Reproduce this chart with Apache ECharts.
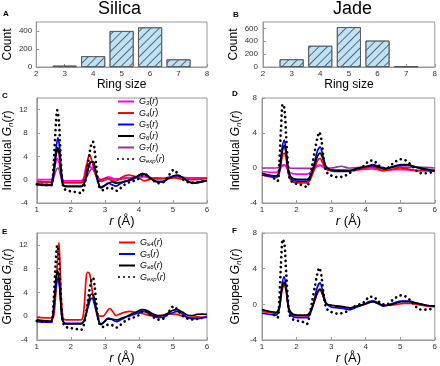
<!DOCTYPE html>
<html><head><meta charset="utf-8">
<script src="https://cdn.jsdelivr.net/npm/echarts@6/dist/echarts.min.js"></script>
<style>html,body{margin:0;padding:0;background:#fff}#c{width:440px;height:366px}</style>
</head><body><div id="c"></div><script>
// ---------- data ----------
const ringSizes = [3, 4, 5, 6, 7];
const silicaCounts = [15, 120, 400, 440, 85];
const jadeCounts = [120, 330, 620, 410, 10];

// Silica, individual rings (panel C)
const silicaExp = [[1.0,-0.8],[1.1,-0.9],[1.2,-0.9],[1.3,-0.9],[1.4,-1.0],[1.45,-0.8],[1.5,3],[1.55,8.5],[1.6,11.9],[1.65,10],[1.7,4],[1.75,-0.3],[1.8,-1.5],[1.9,-1.9],[2.0,-2.0],[2.1,-2.1],[2.2,-2.2],[2.3,-2.3],[2.35,-2.0],[2.4,-1.0],[2.45,0.5],[2.5,2.5],[2.55,4.5],[2.6,6.0],[2.65,6.5],[2.7,5.0],[2.75,2.0],[2.8,-0.3],[2.85,-1.4],[2.95,-1.8],[3.05,-1.5],[3.15,-1.4],[3.25,-1.6],[3.35,-1.9],[3.45,-1.5],[3.55,-1.0],[3.65,-0.6],[3.8,-0.3],[3.95,0.0],[4.05,0.5],[4.15,1.0],[4.25,0.7],[4.35,0.1],[4.5,-0.4],[4.6,-0.6],[4.75,-0.3],[4.85,0.5],[4.95,1.3],[5.02,1.7],[5.1,1.3],[5.2,0.6],[5.3,0.0],[5.43,-0.4],[5.58,-0.55],[5.7,-0.45],[5.85,-0.3],[6.0,-0.2]];
const silicaG3 = [[1.0,0.0],[1.4,0.0],[1.45,0.2],[1.5,1.2],[1.55,2.8],[1.6,3.6],[1.65,3.0],[1.7,1.2],[1.75,0.1],[1.8,-0.2],[2.0,-0.2],[2.3,-0.2],[2.38,0.3],[2.43,1.8],[2.48,2.8],[2.53,2.6],[2.6,2.0],[2.65,2.1],[2.72,1.2],[2.8,0.3],[2.9,0.0],[3.0,0.2],[3.1,0.5],[3.2,0.3],[3.3,0.1],[3.45,0.2],[3.6,0.4],[3.8,0.3],[4.0,0.4],[4.15,0.5],[4.35,0.2],[4.55,0.1],[4.8,0.3],[5.0,0.5],[5.2,0.4],[5.4,0.2],[5.6,0.1],[5.8,0.2],[6.0,0.3]];
const silicaG4 = [[1.0,-0.3],[1.4,-0.4],[1.45,-0.1],[1.5,1.5],[1.55,3.8],[1.6,5.0],[1.65,4.5],[1.7,2.0],[1.75,0.0],[1.8,-0.5],[2.0,-0.5],[2.3,-0.5],[2.38,0.0],[2.44,1.5],[2.5,3.5],[2.55,4.3],[2.6,3.6],[2.67,2.0],[2.75,0.5],[2.85,-0.2],[2.95,0.1],[3.05,0.3],[3.15,0.0],[3.3,-0.3],[3.45,0.2],[3.6,0.7],[3.7,0.8],[3.85,0.6],[4.0,0.3],[4.15,-0.2],[4.3,0.0],[4.5,0.3],[4.7,0.2],[4.9,0.2],[5.05,0.3],[5.25,0.1],[5.45,0.0],[5.65,0.0],[5.85,0.1],[6.0,0.2]];
const silicaG5 = [[1.0,-0.9],[1.4,-1.0],[1.45,-0.7],[1.5,1.5],[1.56,5.0],[1.62,7.2],[1.67,5.5],[1.72,1.5],[1.77,-0.8],[1.85,-1.1],[2.0,-1.1],[2.3,-1.1],[2.38,-0.7],[2.45,0.5],[2.52,2.0],[2.6,3.0],[2.65,3.0],[2.72,1.5],[2.8,-0.5],[2.88,-1.3],[2.98,-1.0],[3.1,-0.6],[3.22,-0.9],[3.32,-1.1],[3.45,-0.7],[3.6,-0.3],[3.8,0.0],[3.95,0.5],[4.1,1.1],[4.25,0.6],[4.4,0.0],[4.55,-0.3],[4.7,-0.3],[4.85,0.2],[5.0,0.6],[5.15,0.7],[5.3,0.3],[5.45,-0.3],[5.6,-0.5],[5.75,-0.4],[5.9,-0.2],[6.0,-0.1]];
const silicaG6 = [[1.0,-0.7],[1.4,-0.9],[1.45,-0.6],[1.5,1.2],[1.56,4.0],[1.61,5.5],[1.66,4.5],[1.71,1.5],[1.76,-0.8],[1.85,-1.2],[2.0,-1.2],[2.3,-1.2],[2.38,-0.8],[2.45,0.5],[2.52,2.2],[2.58,3.0],[2.66,3.0],[2.72,1.8],[2.8,-0.4],[2.88,-1.4],[2.98,-1.1],[3.08,-0.7],[3.2,-0.4],[3.35,-0.6],[3.5,-0.4],[3.65,-0.2],[3.8,0.2],[3.95,0.6],[4.1,1.0],[4.25,0.7],[4.4,0.0],[4.55,-0.4],[4.7,-0.4],[4.85,0.1],[5.0,0.6],[5.12,0.8],[5.28,0.4],[5.45,-0.3],[5.6,-0.6],[5.75,-0.5],[5.9,-0.3],[6.0,-0.2]];
const silicaG7 = [[1.0,-0.4],[1.4,-0.5],[1.46,-0.3],[1.52,0.8],[1.58,1.8],[1.63,2.0],[1.68,1.2],[1.74,-0.1],[1.8,-0.5],[2.0,-0.5],[2.3,-0.5],[2.4,-0.2],[2.48,0.6],[2.56,1.5],[2.63,1.9],[2.7,1.2],[2.78,0.2],[2.88,-0.3],[3.0,-0.1],[3.15,0.2],[3.3,0.1],[3.5,0.1],[3.7,0.3],[3.9,0.4],[4.1,0.6],[4.3,0.4],[4.5,0.2],[4.7,0.2],[4.9,0.4],[5.1,0.5],[5.3,0.4],[5.5,0.3],[5.7,0.3],[5.9,0.3],[6.0,0.3]];

// Jade, individual rings (panel D)
const jadeExp = [[1.35,-1.2],[1.45,-1.5],[1.5,0.5],[1.55,4.5],[1.6,7.3],[1.65,6.8],[1.7,3.5],[1.75,0.5],[1.8,-1.2],[1.9,-1.7],[2.0,-1.8],[2.1,-1.9],[2.2,-2.0],[2.3,-2.2],[2.38,-1.2],[2.45,0.3],[2.53,2.0],[2.6,3.4],[2.66,4.1],[2.72,3.2],[2.78,1.2],[2.85,-0.3],[2.95,-0.8],[3.05,-0.9],[3.18,-1.05],[3.3,-1.0],[3.45,-0.8],[3.6,-0.4],[3.75,-0.1],[3.9,0.1],[4.0,0.4],[4.1,0.85],[4.22,0.85],[4.35,0.4],[4.5,0.0],[4.62,0.0],[4.75,0.4],[4.87,0.75],[5.0,1.0],[5.12,0.95],[5.25,0.6],[5.4,0.0],[5.52,-0.5],[5.65,-0.6],[5.78,-0.6],[5.9,-0.5],[6.0,-0.4]];
const jadeG3 = [[1.0,-0.4],[1.4,-0.5],[1.5,-0.3],[1.58,0.2],[1.65,0.35],[1.72,0.0],[1.8,-0.5],[2.0,-0.7],[2.3,-0.7],[2.4,-0.5],[2.52,-0.1],[2.62,0.3],[2.7,0.3],[2.8,0.0],[2.95,-0.2],[3.2,-0.2],[3.5,-0.3],[3.8,-0.2],[4.2,-0.1],[4.5,-0.3],[4.8,-0.2],[5.1,-0.2],[5.5,-0.3],[6.0,-0.3]];
const jadeG4 = [[1.0,-0.8],[1.4,-1.1],[1.5,-0.6],[1.57,1.0],[1.64,1.7],[1.7,1.0],[1.78,-0.9],[1.9,-1.6],[2.1,-1.7],[2.3,-1.7],[2.4,-1.3],[2.5,-0.3],[2.6,0.8],[2.68,1.1],[2.75,0.6],[2.85,-0.1],[3.0,-0.3],[3.3,-0.3],[3.6,-0.3],[3.9,-0.1],[4.15,0.1],[4.3,0.0],[4.5,-0.3],[4.7,-0.2],[5.0,0.0],[5.2,-0.1],[5.5,-0.3],[5.8,-0.3],[6.0,-0.4]];
const jadeG5 = [[1.0,-0.8],[1.4,-1.0],[1.5,-0.3],[1.57,2.0],[1.64,3.2],[1.7,2.0],[1.78,-0.6],[1.9,-1.4],[2.1,-1.5],[2.3,-1.5],[2.4,-1.0],[2.5,0.3],[2.6,1.9],[2.68,2.4],[2.75,1.6],[2.85,0.2],[3.0,-0.3],[3.2,-0.4],[3.5,-0.4],[3.8,0.0],[4.05,0.2],[4.2,0.4],[4.35,0.2],[4.55,-0.1],[4.75,0.1],[5.0,0.4],[5.2,0.4],[5.45,0.1],[5.7,-0.2],[6.0,-0.3]];
const jadeG6 = [[1.0,-0.6],[1.4,-0.9],[1.5,-0.4],[1.57,1.5],[1.64,2.6],[1.7,1.6],[1.78,-0.5],[1.9,-1.2],[2.1,-1.3],[2.3,-1.3],[2.4,-0.9],[2.5,0.1],[2.6,1.3],[2.68,1.7],[2.75,1.2],[2.85,0.1],[3.0,-0.2],[3.2,-0.3],[3.5,-0.3],[3.8,0.0],[4.05,0.2],[4.2,0.3],[4.35,0.1],[4.55,-0.1],[4.75,0.1],[5.0,0.3],[5.2,0.35],[5.45,0.1],[5.7,-0.1],[6.0,-0.3]];
const jadeG7 = [[1.0,0.0],[1.4,0.0],[1.5,0.05],[1.6,0.3],[1.68,0.3],[1.78,0.0],[2.0,-0.05],[2.4,-0.05],[2.55,0.1],[2.68,0.3],[2.8,0.1],[3.0,0.0],[3.3,0.2],[3.5,0.0],[4.0,0.1],[4.3,0.2],[4.6,0.0],[5.0,0.1],[5.5,0.1],[6.0,0.0]];

// Silica, grouped (panel E)
const silicaLe4 = [[1.0,-0.2],[1.4,-0.3],[1.48,-0.2],[1.52,1.0],[1.57,5.0],[1.62,10.5],[1.65,12.4],[1.68,9.0],[1.72,3.0],[1.77,-0.3],[1.85,-0.6],[2.0,-0.6],[2.3,-0.6],[2.36,0.0],[2.41,3.0],[2.45,6.5],[2.49,7.4],[2.55,7.2],[2.6,5.5],[2.66,3.0],[2.75,0.8],[2.85,0.0],[2.95,0.0],[3.05,0.7],[3.14,1.3],[3.23,0.8],[3.33,0.1],[3.45,0.4],[3.6,0.7],[3.75,0.8],[3.9,0.6],[4.05,0.5],[4.2,0.3],[4.35,0.1],[4.5,0.0],[4.7,0.2],[4.9,0.4],[5.1,0.3],[5.3,0.0],[5.5,-0.2],[5.7,-0.1],[5.9,-0.2],[6.0,-0.2]];
const silicaEq5 = [[1.0,-0.9],[1.4,-1.0],[1.45,-0.7],[1.5,1.2],[1.56,4.5],[1.62,6.5],[1.67,5.0],[1.72,1.2],[1.77,-0.8],[1.85,-1.2],[2.0,-1.2],[2.3,-1.2],[2.38,-0.8],[2.45,0.3],[2.53,2.0],[2.6,3.0],[2.65,2.9],[2.72,1.5],[2.8,-0.5],[2.88,-1.3],[2.98,-0.9],[3.1,-0.3],[3.22,-0.6],[3.35,-0.9],[3.5,-0.5],[3.65,-0.1],[3.8,0.2],[3.95,0.5],[4.1,0.8],[4.25,0.6],[4.4,0.1],[4.55,-0.2],[4.7,-0.2],[4.85,0.3],[5.0,0.6],[5.12,0.8],[5.3,0.3],[5.45,-0.3],[5.6,-0.4],[5.75,-0.4],[5.9,-0.2],[6.0,-0.1]];
const silicaGe6 = [[1.0,-0.6],[1.4,-0.8],[1.45,-0.5],[1.5,1.8],[1.55,5.5],[1.6,7.7],[1.65,6.5],[1.7,2.5],[1.75,-0.6],[1.85,-1.3],[2.0,-1.3],[2.3,-1.3],[2.38,-0.9],[2.45,0.5],[2.52,2.5],[2.6,3.7],[2.66,3.6],[2.73,1.8],[2.8,-0.3],[2.88,-1.4],[2.98,-1.0],[3.08,-0.5],[3.2,-0.5],[3.35,-0.6],[3.5,-0.3],[3.65,0.0],[3.8,0.4],[3.95,0.8],[4.1,1.1],[4.25,0.9],[4.4,0.4],[4.55,0.1],[4.7,0.1],[4.85,0.5],[5.0,1.0],[5.12,1.1],[5.28,0.7],[5.42,0.2],[5.55,0.1],[5.7,0.3],[5.85,0.35],[6.0,0.3]];

// Jade, grouped (panel F)
const jadeLe4 = [[1.0,-0.8],[1.4,-1.0],[1.5,-0.4],[1.57,1.3],[1.64,2.3],[1.7,1.4],[1.78,-0.6],[1.9,-1.2],[2.1,-1.3],[2.3,-1.3],[2.4,-0.9],[2.5,0.1],[2.6,1.2],[2.68,1.6],[2.75,1.1],[2.85,0.1],[3.0,-0.1],[3.2,-0.2],[3.5,-0.4],[3.7,-0.3],[3.9,-0.1],[4.05,0.1],[4.2,0.3],[4.35,0.1],[4.5,-0.1],[4.7,-0.1],[4.9,0.0],[5.1,0.1],[5.3,0.1],[5.6,-0.1],[5.8,-0.2],[6.0,-0.3]];
const jadeEq5 = [[1.0,-1.0],[1.4,-1.2],[1.5,-0.5],[1.57,2.0],[1.64,3.1],[1.7,2.0],[1.78,-0.7],[1.9,-1.4],[2.1,-1.5],[2.3,-1.5],[2.4,-1.0],[2.5,0.3],[2.6,1.9],[2.68,2.4],[2.75,1.6],[2.85,0.2],[3.0,-0.3],[3.2,-0.4],[3.4,-0.5],[3.55,-0.6],[3.75,-0.3],[3.95,0.0],[4.1,0.3],[4.22,0.4],[4.35,0.2],[4.5,-0.2],[4.65,-0.1],[4.85,0.2],[5.05,0.35],[5.25,0.35],[5.5,0.1],[5.75,-0.1],[6.0,-0.2]];
const jadeGe6 = [[1.0,-0.6],[1.4,-0.9],[1.5,-0.3],[1.57,1.6],[1.64,2.5],[1.7,1.6],[1.78,-0.5],[1.9,-1.1],[2.1,-1.2],[2.3,-1.2],[2.4,-0.8],[2.5,0.2],[2.6,1.3],[2.68,1.7],[2.75,1.2],[2.85,0.1],[3.0,-0.1],[3.2,-0.2],[3.4,-0.3],[3.55,-0.4],[3.75,-0.2],[3.95,0.0],[4.1,0.2],[4.22,0.3],[4.35,0.1],[4.5,-0.1],[4.65,-0.1],[4.85,0.1],[5.05,0.3],[5.25,0.3],[5.5,0.1],[5.75,-0.1],[6.0,-0.2]];

// ---------- styling ----------
const FONT = '"Liberation Sans", Arial, Helvetica, sans-serif';
const C_MAG = '#ff00ff', C_RED = '#ff0000', C_BLUE = '#0000ff', C_BLK = '#000000', C_PUR = '#993399';
const gridBox = [
  {left: 31, top: 22, width: 176, height: 45},
  {left: 263, top: 22, width: 174, height: 45},
  {left: 31, top: 98, width: 176, height: 105},
  {left: 262, top: 98, width: 175, height: 105},
  {left: 31, top: 233, width: 176, height: 107},
  {left: 262, top: 233, width: 175, height: 107}
];
const nameRich = {
  i: {fontStyle: 'italic', fontSize: 12, fontFamily: FONT, color: '#000', lineHeight: 14},
  s: {fontStyle: 'italic', fontSize: 8, fontFamily: FONT, color: '#000', verticalAlign: 'bottom', lineHeight: 8}
};
function xAx(gi, min, max, interval, name, gap, size) {
  return {
    gridIndex: gi, type: 'value', min: min, max: max, interval: interval,
    name: name, nameLocation: 'middle', nameGap: gap,
    nameTextStyle: {fontSize: size, color: '#000', fontFamily: FONT, rich: {i: {fontStyle: 'italic', fontSize: size, fontFamily: FONT, color: '#000'}}},
    axisLine: {onZero: false, lineStyle: {color: '#999', width: 1}},
    axisTick: {inside: true, length: 3, lineStyle: {color: '#999'}},
    axisLabel: {fontSize: 8, color: '#333', margin: 3, fontFamily: FONT},
    splitLine: {show: false}
  };
}
function yAx(gi, min, max, interval, name, gap, margin) {
  return {
    gridIndex: gi, type: 'value', min: min, max: max, interval: interval,
    name: name, nameLocation: 'middle', nameGap: gap,
    nameTextStyle: {fontSize: 12, color: '#000', fontFamily: FONT, lineHeight: 14, rich: nameRich},
    axisLine: {onZero: false, lineStyle: {color: '#999', width: 1}},
    axisTick: {inside: true, length: 3, lineStyle: {color: '#999'}},
    axisLabel: {fontSize: 8, color: '#333', margin: margin, fontFamily: FONT, showMaxLabel: (max % interval === 0)},
    splitLine: {show: false}
  };
}
const series = [];
function addBar(gi, counts) {
  series.push({
    type: 'bar', xAxisIndex: gi, yAxisIndex: gi, barWidth: 24,
    data: ringSizes.map((r, k) => [r, counts[k]]),
    itemStyle: {
      color: '#bfe3f6', borderColor: '#555', borderWidth: 0.8,
      decal: {symbol: 'rect', symbolSize: 1, dashArrayX: [1, 0], dashArrayY: [1, 5], rotation: -Math.PI / 4, color: '#556677'}
    },
    silent: true
  });
}
function addLine(gi, name, data, color) {
  series.push({
    type: 'line', name: name, xAxisIndex: gi, yAxisIndex: gi, data: data,
    smooth: 0.3, symbol: 'none', showSymbol: false, silent: true,
    lineStyle: {color: color, width: 1.7}, itemStyle: {color: color}
  });
}
function addExp(gi, name, data) {
  series.push({
    type: 'line', name: name, xAxisIndex: gi, yAxisIndex: gi, data: data,
    smooth: 0.3, symbol: 'none', showSymbol: false, silent: true, z: 5,
    lineStyle: {color: '#000', width: 2.7, type: [0.01, 5], cap: 'round'}, itemStyle: {color: '#000'}
  });
}
addBar(0, silicaCounts);
addBar(1, jadeCounts);
addLine(2, 'C_G7', silicaG7, C_PUR);
addLine(2, 'C_G3', silicaG3, C_MAG);
addLine(2, 'C_G4', silicaG4, C_RED);
addLine(2, 'C_G5', silicaG5, C_BLUE);
addLine(2, 'C_G6', silicaG6, C_BLK);
addExp(2, 'C_exp', silicaExp);
addLine(3, 'D_G7', jadeG7, C_PUR);
addLine(3, 'D_G3', jadeG3, C_MAG);
addLine(3, 'D_G4', jadeG4, C_RED);
addLine(3, 'D_G5', jadeG5, C_BLUE);
addLine(3, 'D_G6', jadeG6, C_BLK);
addExp(3, 'D_exp', jadeExp);
addLine(4, 'E_le4', silicaLe4, C_RED);
addLine(4, 'E_5', silicaEq5, C_BLUE);
addLine(4, 'E_ge6', silicaGe6, C_BLK);
addExp(4, 'E_exp', silicaExp);
addLine(5, 'F_le4', jadeLe4, C_RED);
addLine(5, 'F_5', jadeEq5, C_BLUE);
addLine(5, 'F_ge6', jadeGe6, C_BLK);
addExp(5, 'F_exp', jadeExp);

const subOf = {C_G3: '3', C_G4: '4', C_G5: '5', C_G6: '6', C_G7: '7', C_exp: 'exp', E_le4: '\u22644', E_5: '5', E_ge6: '\u22656', E_exp: 'exp'};
const legRich = {
  i: {fontStyle: 'italic', fontSize: 9, fontFamily: FONT, color: '#000', lineHeight: 10},
  n: {fontSize: 9, fontFamily: FONT, color: '#000', lineHeight: 10},
  s: {fontStyle: 'italic', fontSize: 6, fontFamily: FONT, color: '#000', verticalAlign: 'bottom', lineHeight: 6}
};
function legend(left, top, names) {
  return {
    orient: 'vertical', left: left, top: top, padding: 0, itemWidth: 16, itemHeight: 10, itemGap: 2,
    data: names, selectedMode: false,
    itemStyle: {opacity: 0, color: 'rgba(0,0,0,0)', borderColor: 'rgba(0,0,0,0)', borderWidth: 0},
    formatter: n => '{i|G}{s|' + subOf[n] + '}{n|(}{i|r}{n|)}',
    textStyle: {fontSize: 9, fontFamily: FONT, rich: legRich, padding: [0, 0, 0, 0]}
  };
}
const gName = t => t + ' {i|G}{s|n}({i|r})';
const rName = '{i|r} (\u00c5)';
const letter = (t, x, y) => ({type: 'text', left: x, top: y, style: {text: t, font: 'bold 8px ' + FONT, fill: '#000'}});
const option = {
  animation: false,
  textStyle: {fontFamily: FONT},
  grid: gridBox.map(g => Object.assign({show: true, borderColor: '#999', borderWidth: 1, backgroundColor: 'transparent'}, g)),
  xAxis: [
    xAx(0, 2, 8, 1, 'Ring size', 8, 12),
    xAx(1, 2, 8, 1, 'Ring size', 8, 12),
    xAx(2, 1, 6, 1, rName, 12, 13),
    xAx(3, 1, 6, 1, rName, 12, 13),
    xAx(4, 1, 6, 1, rName, 12, 13),
    xAx(5, 1, 6, 1, rName, 12, 13)
  ],
  yAxis: [
    yAx(0, 0, 500, 200, 'Count', 16, 4),
    yAx(1, 0, 700, 200, 'Count', 21, 5),
    yAx(2, -4, 14, 4, gName('Individual'), 17, 9),
    yAx(3, -4, 8, 4, gName('Individual'), 19, 5),
    yAx(4, -4, 14, 4, gName('Grouped'), 17, 9),
    yAx(5, -4, 8, 4, gName('Grouped'), 19, 5)
  ],
  legend: [
    legend(117, 97, ['C_G3', 'C_G4', 'C_G5', 'C_G6', 'C_G7', 'C_exp']),
    legend(118, 238, ['E_le4', 'E_5', 'E_ge6', 'E_exp'])
  ],
  graphic: [
    {type: 'text', left: 98, top: 0, style: {text: 'Silica', font: '18px ' + FONT, fill: '#000'}},
    {type: 'text', left: 333, top: 0, style: {text: 'Jade', font: '18px ' + FONT, fill: '#000'}},
    letter('A', 3, 10), letter('B', 233, 11),
    letter('C', 2, 92), letter('D', 232, 90),
    letter('E', 2, 228), letter('F', 232, 227)
  ],
  series: series
};
const chart = echarts.init(document.getElementById('c'), null, {renderer: 'canvas'});
chart.setOption(option);
</script></body></html>
